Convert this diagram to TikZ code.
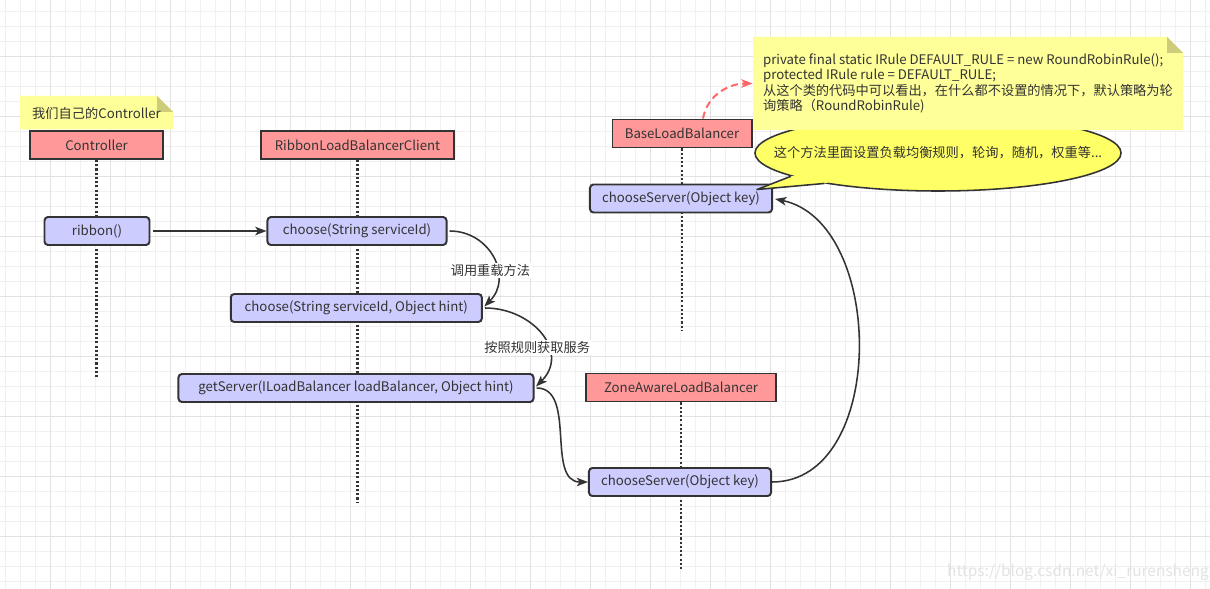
\documentclass[tikz,border=0pt]{standalone}
\usepackage{fontspec}
\setmainfont{Noto Sans CJK SC}
\usepackage{tikz}
\usetikzlibrary{arrows.meta,positioning,shapes.geometric,calc}
\usepackage{xcolor}
\definecolor{ink}{HTML}{333333}
\definecolor{hdr}{HTML}{FF9999}
\definecolor{act}{HTML}{CCCCFF}
\definecolor{memo}{HTML}{FFFF99}
\definecolor{memofold}{HTML}{CCCC7A}
\definecolor{bubble}{HTML}{FFFF66}
\definecolor{hintred}{HTML}{FF6666}
\definecolor{gridfine}{HTML}{F0F0F0}
\definecolor{gridbold}{HTML}{E2E2E2}

\begin{document}
\begin{tikzpicture}[x=0.025cm, y=0.025cm,
  txt/.style={font=\fontsize{9.4}{11}\selectfont, text=ink},
  lane/.style={txt, draw=ink, fill=hdr, line width=1.4pt, inner sep=0pt, minimum height=0.7cm},
  call/.style={txt, draw=ink, fill=act, line width=1.4pt, rounded corners=2.5pt, inner sep=0pt, minimum height=0.7cm},
  lifeline/.style={ink, line width=1.5pt, dash pattern=on 1.5pt off 1.5pt},
  msg/.style={ink, line width=1.1pt, -{Stealth[length=8pt,width=6pt,inset=2pt]}},
  msglabel/.style={txt, fill=white, inner sep=1pt},
  memotext/.style={txt, align=left, inner sep=0pt}
]
  \useasboundingbox (0,0) rectangle (1210,-589);
  \fill[white] (0,0) rectangle (1210,-589);
  \foreach \gx in {5,20,...,1205} \draw[gridfine, line width=0.7pt] (\gx,0) -- (\gx,-589);
  \foreach \gy in {11.7,26.7,...,589} \draw[gridfine, line width=0.7pt] (0,-\gy) -- (1210,-\gy);
  \foreach \gx in {50,110,...,1190} \draw[gridbold, line width=0.7pt] (\gx,0) -- (\gx,-589);
  \foreach \gy in {56.7,116.7,...,589} \draw[gridbold, line width=0.7pt] (0,-\gy) -- (1210,-\gy);

  \node[lane, minimum width=3.325cm] (ctrl) at (96.5,-145) {Controller};
  \node[lane, minimum width=4.825cm] (client) at (357.5,-145) {RibbonLoadBalancerClient};
  \node[lane, minimum width=3.475cm] (base) at (682,-133.5) {BaseLoadBalancer};
  \node[lane, minimum width=4.75cm] (zone) at (681,-387.5) {ZoneAwareLoadBalancer};

  \coordinate (ctrlend) at (96.5,-377);
  \coordinate (clientend) at (357.5,-502);
  \coordinate (baseend) at (682,-330);
  \coordinate (zoneend) at (681,-570);
  \draw[lifeline] (ctrl) -- (ctrlend);
  \draw[lifeline] (client) -- (clientend);
  \draw[lifeline] (base) -- (baseend);
  \draw[lifeline] (zone) -- (zoneend);

  \node[call, minimum width=2.625cm] (ribbon) at (97,-231) {ribbon()};
  \node[call, minimum width=4.475cm] (choose) at (357,-231) {choose(String serviceId)};
  \node[call, minimum width=6.275cm] (choosehint) at (356.3,-308) {choose(String serviceId, Object hint)};
  \node[call, minimum width=8.875cm] (getserver) at (356,-388) {getServer(ILoadBalancer loadBalancer, Object hint)};
  \node[call, minimum width=4.55cm] (baseserver) at (681,-198.5) {chooseServer(Object key)};
  \node[call, minimum width=4.55cm] (zoneserver) at (680,-482) {chooseServer(Object key)};

  \draw[msg, shorten <=2pt] (ribbon) -- (choose);
  \draw[msg, shorten <=1.5pt, shorten >=1.5pt] (choose.east) to[out=0, in=45, looseness=1.3]
    node[msglabel, pos=0.63, xshift=-0.15cm] (overload) {调用重载方法} (choosehint.east);
  \draw[msg, shorten <=1.5pt, shorten >=1.5pt] (choosehint.east) to[out=0, in=45, looseness=1.35]
    node[msglabel, pos=0.63, xshift=-0.25cm] (byrule) {按照规则获取服务} (getserver.east);
  \draw[msg, shorten <=1.5pt] (getserver.east) to[out=0, in=180] (zoneserver.west);
  \draw[msg, shorten >=1.5pt] (zoneserver.east) to[out=0, in=-12, looseness=1.04] (baseserver.east);

  \coordinate (hinttip) at ($(baseserver.north east)+(-16,-6)$);
  \node[ellipse, draw=ink, fill=bubble, line width=1.1pt, minimum width=9.15cm, minimum height=1.9cm, inner sep=0pt,
    label={[txt]center:这个方法里面设置负载均衡规则，轮询，随机，权重等...}] (hint) at (938,-153) {};
  \fill[bubble] (hint.189) -- (hinttip) -- (hint.195) -- ($(hint.195)!3pt!(hint.center)$) -- ($(hint.189)!3pt!(hint.center)$) -- cycle;
  \draw[ink, line width=1.1pt, line join=round] (hint.189) -- (hinttip) -- (hint.195);

  \fill[memo] (753,-37) -- (1167,-37) -- (1183,-53) -- (1183,-130) -- (753,-130) -- cycle;
  \fill[memofold] (1167,-37) -- (1167,-53) -- (1183,-53) -- cycle;
  \node[memotext, minimum width=10.75cm, minimum height=2.325cm] (rule) at (968,-83.5) {private final static IRule DEFAULT\_RULE = new RoundRobinRule();\\
    protected IRule rule = DEFAULT\_RULE;\\
    从这个类的代码中可以看出，在什么都不设置的情况下，默认策略为轮\\
    询策略（RoundRobinRule)};

  \fill[memo] (20,-96) -- (157,-96) -- (173,-112) -- (173,-129.3) -- (20,-129.3) -- cycle;
  \fill[memofold] (157,-96) -- (157,-112) -- (173,-112) -- cycle;
  \node[txt, inner sep=0pt] (mynote) at (96.5,-113) {我们自己的Controller};

  \coordinate (basetop) at ($(base.north)+(21,0)$);
  \draw[hintred, line width=1.4pt, dash pattern=on 5pt off 3pt, -{Stealth[length=8pt,width=6pt,inset=2pt]}] (basetop) to[out=80, in=180] (rule.west);

  \node[font=\fontsize{11}{13}\selectfont, text=gray!22] (mark) at (1078,-572) {https://blog.csdn.net/xi\_rurensheng};
\end{tikzpicture}
\end{document}
